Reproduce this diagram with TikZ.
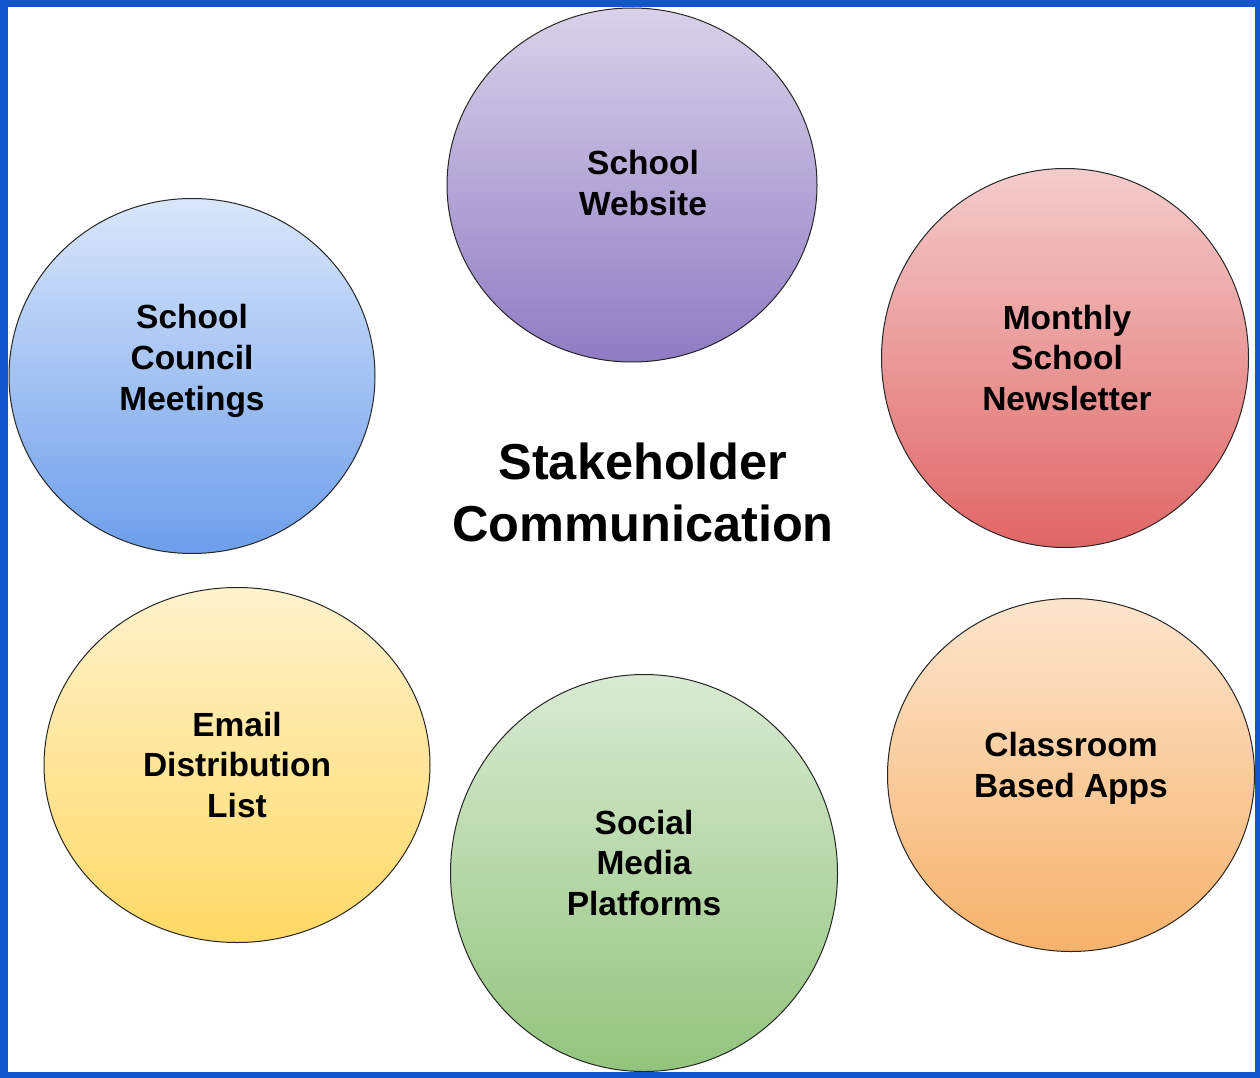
\documentclass[tikz,border=0pt]{standalone}
\usepackage{fontspec}
\setmainfont{Liberation Sans}
\usetikzlibrary{shapes.geometric}
\definecolor{frameblue}{HTML}{1155CC}
\definecolor{purpT}{HTML}{D9D2E9}\definecolor{purpB}{HTML}{8E7CC3}
\definecolor{bluT}{HTML}{DAE6FA}\definecolor{bluB}{HTML}{6D9EEB}
\definecolor{redT}{HTML}{F4CCCC}\definecolor{redB}{HTML}{E06666}
\definecolor{yelT}{HTML}{FFF2CC}\definecolor{yelB}{HTML}{FFD966}
\definecolor{grnT}{HTML}{D9EAD3}\definecolor{grnB}{HTML}{93C47D}
\definecolor{orT}{HTML}{FCE5CD}\definecolor{orB}{HTML}{F6B26B}
\tikzset{
  blob/.style={ellipse, draw=black!85, line width=1pt, inner sep=0pt},
  lbl/.style={align=center, font=\fontsize{33.5}{40.8}\selectfont\bfseries, inner sep=0pt},
  ttl/.style={align=center, font=\fontsize{50.5}{62}\selectfont\bfseries, inner sep=0pt}
}
\begin{document}
\begin{tikzpicture}[x=1pt,y=-1pt]
\useasboundingbox (0,0) rectangle (1260,1078);
\fill[frameblue] (0,0) rectangle (1260,1078);
\fill[white] (8,7) rectangle (1255,1072);
\node[blob, minimum width=370pt, minimum height=354pt, top color=purpT, bottom color=purpB] (web) at (632,185) {};
\node[blob, minimum width=366pt, minimum height=355pt, top color=bluT, bottom color=bluB] (council) at (192,376) {};
\node[blob, minimum width=367pt, minimum height=379pt, top color=redT, bottom color=redB] (news) at (1065,358) {};
\node[blob, minimum width=386pt, minimum height=355pt, top color=yelT, bottom color=yelB] (email) at (237,765) {};
\node[blob, minimum width=387pt, minimum height=397pt, top color=grnT, bottom color=grnB] (social) at (644,873) {};
\node[blob, minimum width=367pt, minimum height=353pt, top color=orT, bottom color=orB] (apps) at (1071,775) {};
\node[lbl] (tweb) at (643,183) {School\\Website};
\node[lbl] (tcouncil) at (192,361) {School\\Council\\Meetings};
\node[lbl] (tnews) at (1067,358) {Monthly\\School\\Newsletter};
\node[lbl] (temail) at (237,765) {Email\\Distribution\\List};
\node[lbl] (tsocial) at (644,863) {Social\\Media\\Platforms};
\node[lbl] (tapps) at (1071,768) {Classroom\\Based Apps};
\node[ttl] (title) at (643,492) {Stakeholder\\Communication};
\end{tikzpicture}
\end{document}
